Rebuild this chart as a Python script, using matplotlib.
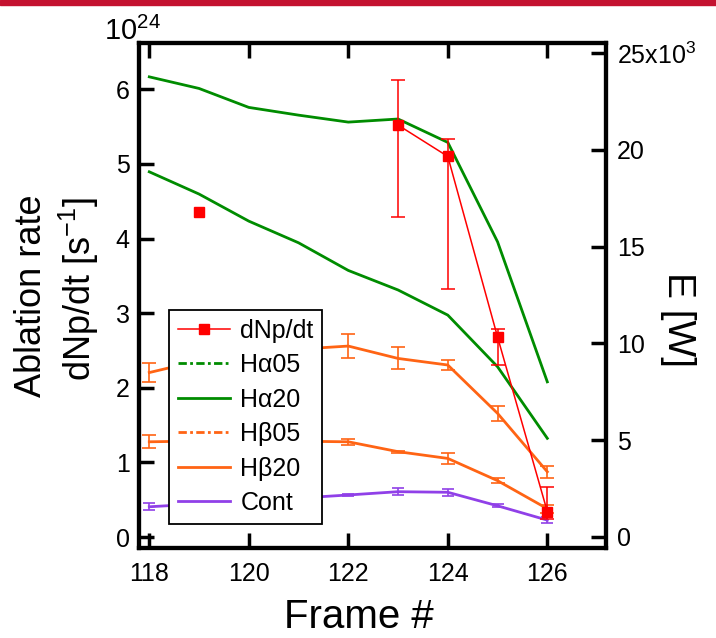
import numpy as np
import matplotlib
matplotlib.use("Agg")
import matplotlib.pyplot as plt
from matplotlib.lines import Line2D
from matplotlib.patches import Rectangle

plt.rcParams['font.family'] = ['Liberation Sans', 'DejaVu Sans']
plt.rcParams['mathtext.fontset'] = 'custom'
plt.rcParams['mathtext.rm'] = 'Liberation Sans'
plt.rcParams['mathtext.it'] = 'Liberation Sans:italic'

# ***** Data *****
frames = [118, 119, 120, 121, 122, 123, 124, 125, 126]

# ablation rate dNp/dt, units of 1e24 s^-1 (left axis)
dnp_frames = [119, 120, 121, 122, 123, 124, 125, 126]
dnp = [4.35, np.nan, np.nan, np.nan, 5.52, 5.10, 2.68, 0.34]
dnp_err_lo = [np.nan, np.nan, np.nan, np.nan, 1.23, 1.77, 0.37, 0.10]
dnp_err_hi = [np.nan, np.nan, np.nan, np.nan, 0.60, 0.23, 0.11, 0.33]

# emission power, units of 1e3 W (right axis)
ha20 = [23.78, 23.18, 22.20, 21.80, 21.44, 21.60, 20.39, 15.25, 8.01]
ha05 = [18.87, 17.72, 16.32, 15.20, 13.77, 12.76, 11.46, 8.79, 5.09]
hb20 = [8.49, 9.10, 9.40, 9.70, 9.86, 9.22, 8.88, 6.38, 3.36]
hb20_err = [0.49, 0.5, 0.5, 0.5, 0.60, 0.57, 0.24, 0.40, 0.32]
hb05 = [4.91, 4.95, 4.97, 4.94, 4.91, 4.40, 4.05, 2.90, 1.45]
hb05_err = [0.34, 0.2, 0.2, 0.2, 0.15, 0.05, 0.27, 0.12, 0.20]
cont = [1.55, 1.70, 1.85, 2.00, 2.16, 2.33, 2.30, 1.60, 0.86]
cont_err = [0.17, 0.1, 0.1, 0.1, 0.05, 0.17, 0.17, 0.08, 0.15]

red = '#ff0000'
green = '#008c00'
orange = '#ff6414'
purple = '#9040e8'

fig = plt.figure(figsize=(7.16, 6.38), dpi=100)
ax = fig.add_axes([0.1946, 0.1411, 0.6518, 0.7915])
ax2 = ax.twinx()

# top decoration band
fig.patches.append(Rectangle((0, 1 - 5 / 638), 1, 5 / 638, transform=fig.transFigure,
                             color='#c41230', zorder=0))

# right axis: emission lines
ax2.plot(frames, ha20, color=green, lw=2.0)
ax2.plot(frames, ha05, color=green, lw=2.0)
ax2.errorbar(frames, hb20, yerr=hb20_err, color=orange, lw=2.0, elinewidth=1.2,
             capsize=5, capthick=1.2)
ax2.errorbar(frames, hb05, yerr=hb05_err, color=orange, lw=2.0, elinewidth=1.2,
             capsize=5, capthick=1.2)
ax2.errorbar(frames, cont, yerr=cont_err, color=purple, lw=2.0, elinewidth=1.2,
             capsize=4.5, capthick=1.2)

# left axis: ablation rate
ax.errorbar(dnp_frames, dnp, yerr=[dnp_err_lo, dnp_err_hi], color=red, lw=1.1,
            marker='s', ms=7.5, elinewidth=1.1, capsize=5, capthick=1.1)

ax.set_zorder(ax2.get_zorder() + 1)
ax.patch.set_visible(False)

ax.set_xlim(117.8, 127.18)
ax.set_ylim(-0.147, 6.62)
ax2.set_ylim(-0.58, 25.53)

ax.set_xticks(np.arange(118, 127, 2))
ax.set_yticks(np.arange(0, 7, 1))
ax2.set_yticks(np.arange(0, 26, 5))
ax2.set_yticklabels(['0', '5', '10', '15', '20', r'25x10$^{3}$'])

ax.tick_params(axis='x', direction='in', top=True, bottom=True, length=11, width=2.5,
               labelsize=18, pad=10)
ax.tick_params(axis='y', direction='in', left=True, right=False, length=11, width=2.5,
               labelsize=18, pad=7)
ax2.tick_params(axis='y', direction='in', right=True, left=False, length=11, width=2.5,
                labelsize=18, pad=8)
for a in (ax, ax2):
    for s in a.spines.values():
        s.set_linewidth(3)

# axis titles
fig.text(359 / 716, 1 - 628 / 638, 'Frame #', fontsize=29, ha='center', va='baseline')
fig.text(41 / 716, 1 - 296 / 638, 'Ablation rate', fontsize=26, rotation=90,
         rotation_mode='anchor', ha='center', va='baseline')
fig.text(91 / 716, 1 - 289 / 638, r'dNp/dt [s$^{-1}$]', fontsize=26, rotation=90,
         rotation_mode='anchor', ha='center', va='baseline')
fig.text(668 / 716, 1 - 319 / 638, 'E [W]', fontsize=28, rotation=-90,
         rotation_mode='anchor', ha='center', va='baseline')
fig.text(104 / 716, 1 - 39.5 / 638, r'10$^{24}$', fontsize=21, ha='left', va='baseline')

# legend
handles = [
    Line2D([], [], color=red, lw=1.1, marker='s', ms=7.5),
    Line2D([], [], color=green, lw=2.0, ls=(0, (3, 1.2, 1, 1.2))),
    Line2D([], [], color=green, lw=2.0),
    Line2D([], [], color=orange, lw=2.0, ls=(0, (3, 1.2, 1, 1.2))),
    Line2D([], [], color=orange, lw=2.0),
    Line2D([], [], color=purple, lw=2.0),
]
labels = ['dNp/dt', 'H\u03b105', 'H\u03b120', 'H\u03b205', 'H\u03b220', 'Cont']
leg = ax.legend(handles, labels, loc='lower left', bbox_to_anchor=(0.0636, 0.0475),
                borderaxespad=0, fontsize=18, labelspacing=0.42, handlelength=2.1,
                handletextpad=0.4, borderpad=0.35, fancybox=False, framealpha=1,
                edgecolor='black')
leg.get_frame().set_linewidth(1.3)

fig.savefig('out.png', dpi=100)
